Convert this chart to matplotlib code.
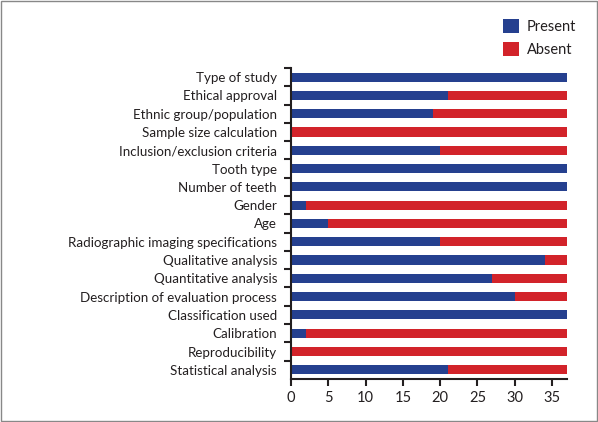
import numpy as np
import matplotlib.pyplot as plt
from matplotlib.patches import Rectangle

items = ['Type of study', 'Ethical approval', 'Ethnic group/population',
         'Sample size calculation', 'Inclusion/exclusion criteria', 'Tooth type',
         'Number of teeth', 'Gender', 'Age', 'Radiographic imaging specifications',
         'Qualitative analysis', 'Quantitative analysis',
         'Description of evaluation process', 'Classification used', 'Calibration',
         'Reproducibility', 'Statistical analysis']
present = np.array([37, 21, 19, 0, 20, 37, 37, 2, 5, 20, 34, 27, 30, 37, 2, 0, 21])
total = 37
absent = total - present

blue = '#25408f'
red = '#d2232a'

plt.rcParams['font.family'] = ['Lato', 'DejaVu Sans']

fig = plt.figure(figsize=(5.98, 4.22), dpi=100)
ax = fig.add_axes([0.4866, 0.102, 0.4615, 0.737])

y = np.arange(len(items))
ax.barh(y, present, height=0.5, color=blue, label='Present')
ax.barh(y, absent, left=present, height=0.5, color=red, label='Absent')

ax.set_ylim(len(items) - 0.5, -0.5)
ax.set_xlim(0, total)
ax.set_yticks(y)
ax.set_yticklabels(items, fontsize=9.6, color='#231f20')
ax.set_yticks(np.arange(-0.5, len(items) - 1, 1.0), minor=True)
ax.tick_params(axis='y', which='major', length=0, pad=10)
ax.tick_params(axis='y', which='minor', length=5, width=1.5, direction='out',
               color='#231f20')
ax.set_xticks(np.arange(0, 36, 5))
ax.tick_params(axis='x', labelsize=10.5, length=5, width=1.5, color='#231f20',
               labelcolor='#231f20')
for s in ['top', 'right']:
    ax.spines[s].set_visible(False)
for s in ['left', 'bottom']:
    ax.spines[s].set_linewidth(1.5)
    ax.spines[s].set_color('#231f20')

fig.legend(loc='upper right', bbox_to_anchor=(0.985, 0.985), frameon=False,
           fontsize=10.5, handlelength=1.1, handleheight=1.1, handletextpad=0.5,
           labelspacing=0.5, labelcolor='#231f20')

fig.patches.append(Rectangle((0.002, 0.002), 0.996, 0.996, transform=fig.transFigure,
                             fill=False, edgecolor='#888888', linewidth=1))

fig.savefig('out.png', dpi=100)
